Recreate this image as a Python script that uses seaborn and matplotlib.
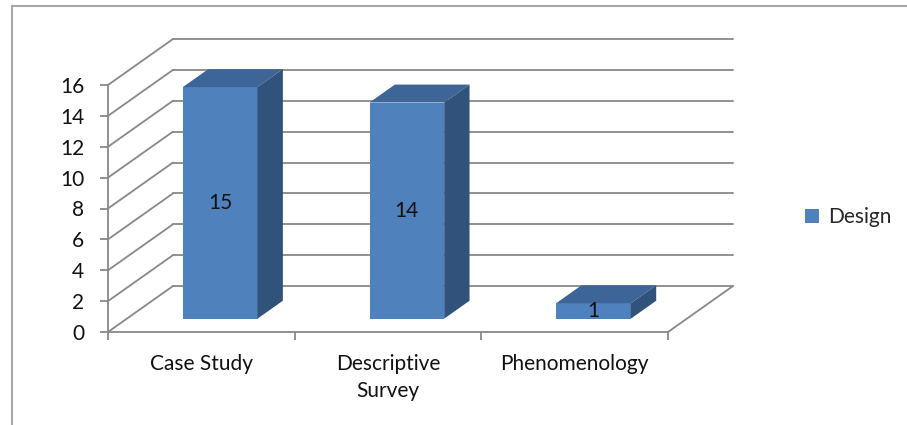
import matplotlib
matplotlib.use("Agg")
import matplotlib.pyplot as plt
import seaborn as sns
from matplotlib.lines import Line2D
from matplotlib.patches import Polygon, Patch
from matplotlib.transforms import ScaledTranslation

# Data
categories = ["Case Study", "Descriptive\nSurvey", "Phenomenology"]
values = [15, 14, 1]
series_name = "Design"
yticks = [0, 2, 4, 6, 8, 10, 12, 14, 16]

front_col = "#4f81bd"
top_col = "#3d6597"
side_col = "#31527b"
grid_col = "#888888"
text_col = "#111111"
FS = 15

sns.set_style("white")
plt.rcParams["font.family"] = ["Lato", "DejaVu Sans"]

DPI = 100
fig = plt.figure(figsize=(9.07, 4.25), dpi=DPI)
ax = fig.add_axes([108 / 907, 1 - 332 / 425, (668 - 108) / 907, (332 - 85) / 425])
ax.set_facecolor("none")

sns.barplot(x=categories, y=values, color=front_col, saturation=1, width=0.4, ax=ax)
ax.set_xlim(-0.5, 2.5)
ax.set_ylim(0, 16)

# pseudo-3D depth (pixels for full depth), bars sit between d0 and d1
DX, DY = 65, 46
d0, d1 = 0.29, 0.68


def proj(x, y, d):
    px, py = ax.transData.transform((x, y))
    return ((px + d * DX) / DPI, (py + d * DY) / DPI)


inch = fig.dpi_scale_trans

# back wall and left wall grid
for v in yticks:
    a = proj(-0.5, v, 1)
    b = proj(2.5, v, 1)
    ax.add_line(Line2D([a[0], b[0]], [a[1], b[1]], transform=inch, color=grid_col,
                       lw=1.3, clip_on=False, zorder=0.5))
    c = proj(-0.5, v, 0)
    ax.add_line(Line2D([c[0], a[0]], [c[1], a[1]], transform=inch, color=grid_col,
                       lw=1.3, clip_on=False, zorder=0.5))
# floor right edge
a = proj(2.5, 0, 0)
b = proj(2.5, 0, 1)
ax.add_line(Line2D([a[0], b[0]], [a[1], b[1]], transform=inch, color=grid_col,
                   lw=1.3, clip_on=False, zorder=0.5))

shift = ax.transData + ScaledTranslation(d0 * DX / DPI, d0 * DY / DPI, inch)
for p, v in zip(ax.patches, values):
    x0, w, h = p.get_x(), p.get_width(), p.get_height()
    p.set_transform(shift)
    p.set_clip_on(False)
    p.set_zorder(2)
    p.set_linewidth(0)
    top = [proj(x0, h, d0), proj(x0 + w, h, d0), proj(x0 + w, h, d1), proj(x0, h, d1)]
    side = [proj(x0 + w, 0, d0), proj(x0 + w, h, d0), proj(x0 + w, h, d1), proj(x0 + w, 0, d1)]
    ax.add_patch(Polygon(top, closed=True, transform=inch, facecolor=top_col,
                         edgecolor="none", clip_on=False, zorder=2))
    ax.add_patch(Polygon(side, closed=True, transform=inch, facecolor=side_col,
                         edgecolor="none", clip_on=False, zorder=2))
    ax.text(x0 + w / 2, h / 2, str(v), transform=shift, ha="center", va="center",
            fontsize=FS, color=text_col, zorder=3, clip_on=False)

# axes styling
for s in ["top", "right"]:
    ax.spines[s].set_visible(False)
for s in ["left", "bottom"]:
    ax.spines[s].set_color(grid_col)
    ax.spines[s].set_linewidth(1.3)

ax.set_yticks(yticks)
ax.set_yticklabels([str(t) for t in yticks])
ax.tick_params(axis="y", length=6, width=1.3, color=grid_col, pad=11,
               labelsize=FS, labelcolor=text_col, direction="out", left=True)
ax.set_xticks([0, 1, 2])
ax.set_xticklabels(categories, multialignment="center", linespacing=1.45)
ax.set_xticks([-0.5, 0.5, 1.5, 2.5], minor=True)
ax.tick_params(axis="x", which="major", length=0, pad=16, labelsize=FS,
               labelcolor=text_col)
ax.tick_params(axis="x", which="minor", length=6, width=1.3, color=grid_col,
               direction="out", bottom=True)
ax.set_xlabel("")
ax.set_ylabel("")

# legend
handle = Patch(facecolor=front_col, edgecolor="none")
fig.legend([handle], [series_name], loc="center left",
           bbox_to_anchor=(805 / 907, 1 - 217 / 425), frameon=False,
           fontsize=FS, handlelength=0.65, handleheight=0.65,
           handletextpad=0.45, borderpad=0, borderaxespad=0)

# outer chart frame (left and top visible)
fig.add_artist(Line2D([12 / 907, 12 / 907], [0, 1 - 6 / 425], transform=fig.transFigure,
                      color="#a6a6a6", lw=1.5))
fig.add_artist(Line2D([12 / 907, 1], [1 - 6 / 425, 1 - 6 / 425], transform=fig.transFigure,
                      color="#a6a6a6", lw=1.5))

fig.savefig("out.png", dpi=DPI)
